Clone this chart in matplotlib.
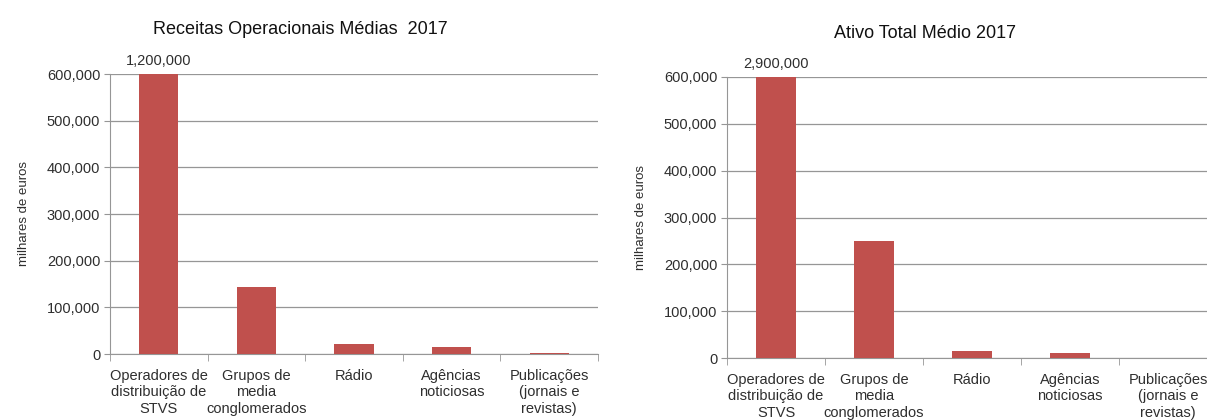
import numpy as np
import matplotlib
matplotlib.use("Agg")
import matplotlib.pyplot as plt
from matplotlib import font_manager
from matplotlib.ticker import FuncFormatter, FixedLocator

# dados (milhares de euros)
categorias = ["Operadores de\ndistribuição de\nSTVS", "Grupos de\nmedia\nconglomerados",
              "Rádio", "Agências\nnoticiosas", "Publicações\n(jornais e\nrevistas)"]
receitas = [1200000, 143000, 21400, 14300, 2300]
ativo = [2900000, 250000, 15700, 11000, 300]

titulo_receitas = "Receitas Operacionais Médias  2017"
titulo_ativo = "Ativo Total Médio 2017"
y_label = "milhares de euros"
y_max = 600000

nomes = {f.name for f in font_manager.fontManager.ttflist}
fonte = "Liberation Sans Narrow" if "Liberation Sans Narrow" in nomes else "Liberation Sans"
plt.rcParams["font.family"] = [fonte, "DejaVu Sans"]

cor_barra = "#C0504D"
cor_grelha = "#969696"
cor_texto = "#2E2E2E"

fig = plt.figure(figsize=(12.07, 4.2), dpi=100)
W, H = 1207, 420


def grafico(rect, valores, titulo, tx, ty):
    ax = fig.add_axes(rect)
    x = np.arange(len(categorias))
    ax.bar(x, valores, width=0.4, color=cor_barra, zorder=3)
    ax.set_xlim(-0.5, len(categorias) - 0.5)
    ax.set_ylim(0, y_max)
    ax.set_yticks(np.arange(0, y_max + 1, 100000))
    ax.yaxis.set_major_formatter(FuncFormatter(lambda v, p: f"{v:,.0f}"))
    ax.set_xticks(x)
    ax.set_xticklabels(categorias, fontsize=10.5, color=cor_texto, linespacing=1.2)
    ax.xaxis.set_minor_locator(FixedLocator(np.arange(-0.5, len(categorias), 1)))
    ax.tick_params(axis="x", which="major", length=0, pad=11)
    ax.tick_params(axis="x", which="minor", length=5, color=cor_grelha, direction="out")
    ax.tick_params(axis="y", length=4, color=cor_grelha, labelsize=10.5, labelcolor=cor_texto, pad=3)
    for s in ["top", "right"]:
        ax.spines[s].set_visible(False)
    for s in ["left", "bottom"]:
        ax.spines[s].set_color(cor_grelha)
    ax.grid(axis="y", color=cor_grelha, linewidth=0.9, zorder=0)
    ax.set_axisbelow(True)
    ax.set_ylabel(y_label, fontsize=9.5, color=cor_texto, labelpad=12)
    # rótulo da barra cortada
    ax.annotate(f"{valores[0]:,.0f}", xy=(0, y_max), xytext=(0, 4), textcoords="offset points",
                ha="center", va="bottom", fontsize=10.5, color=cor_texto, annotation_clip=False)
    fig.text(tx / W, 1 - ty / H, titulo, ha="center", va="center", fontsize=13, color="#111111")
    return ax


ax1 = grafico([110 / W, 1 - 354 / H, 488 / W, 280 / H], receitas, titulo_receitas, 300, 30)
ax2 = grafico([727 / W, 1 - 358 / H, 490 / W, 281 / H], ativo, titulo_ativo, 925, 33)

fig.savefig("out.png", dpi=100)
